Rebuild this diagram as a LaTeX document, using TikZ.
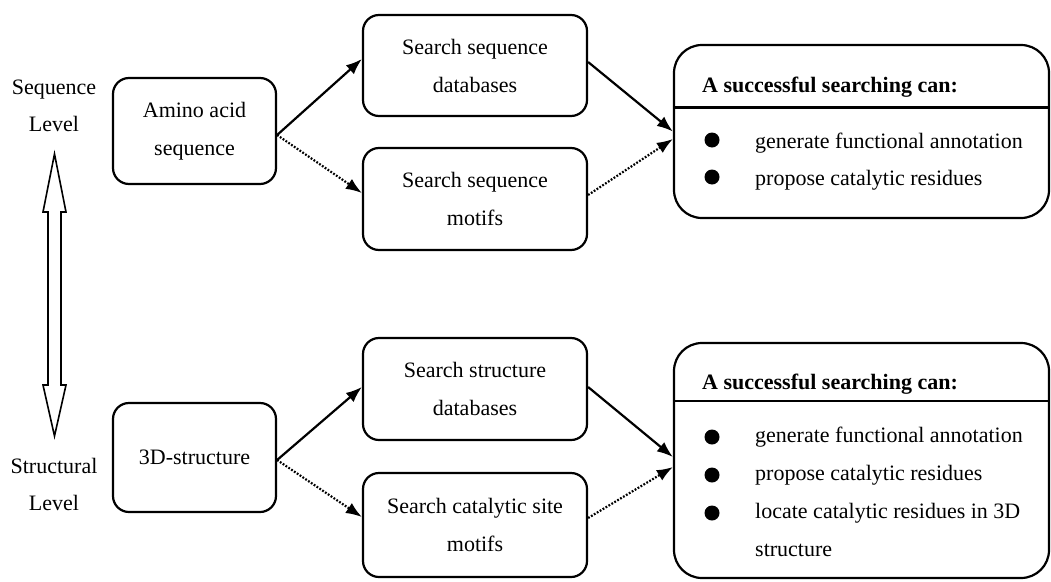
\documentclass[tikz,border=0pt]{standalone}
\usepackage{fontspec}
\setmainfont{Liberation Serif}
\usetikzlibrary{arrows.meta}

\tikzset{
  stepbox/.style={draw, line width=2.2pt, rounded corners=16pt, align=center,
    font=\fontsize{22}{38}\selectfont, inner sep=0pt},
  resultbox/.style={draw, line width=2.2pt, rounded corners=28pt, inner sep=0pt},
  lvltext/.style={align=center, font=\fontsize{22}{37}\selectfont, inner sep=0pt},
  itemtext/.style={anchor=base west, font=\fontsize{22}{25}\selectfont, inner sep=0pt},
  headtext/.style={anchor=base west, font=\fontsize{22}{25}\selectfont\bfseries, inner sep=0pt},
  bul/.style={circle, fill, minimum size=15pt, inner sep=0pt},
  solidarrow/.style={line width=2.2pt, -{Latex[length=16pt,width=12pt]}},
  dotarrow/.style={line width=2.2pt, dash pattern=on 1.8pt off 1.6pt, -{Latex[length=16pt,width=12pt]}},
}

\begin{document}
\begin{tikzpicture}[x=1pt,y=-1pt]
\useasboundingbox (0,0) rectangle (1051,581);

% level labels and the double-headed arrow between them
\node[lvltext] (seqlvl) at (54,106) {Sequence\\Level};
\node[lvltext] (strlvl) at (54,484) {Structural\\Level};
\draw[line width=1.6pt, line join=miter]
  (54.5,154) -- (66,212) -- (61,212) -- (61,385) -- (66,385) -- (54.5,436)
  -- (43,385) -- (48,385) -- (48,212) -- (43,212) -- cycle;

% sequence level
\node[stepbox, minimum width=163pt, minimum height=106pt] (amino) at (194.5,131) {Amino acid\\sequence};
\node[stepbox, minimum width=224pt, minimum height=101pt] (sdb) at (475,65.5) {Search sequence\\databases};
\node[stepbox, minimum width=224pt, minimum height=102pt] (smo) at (475,199) {Search sequence\\motifs};
\node[resultbox, minimum width=375pt, minimum height=173pt] (res1) at (861.5,131.5) {};
\coordinate (h1) at (0,107.5);
\draw[line width=2.2pt] (res1.west |- h1) -- (res1.east |- h1);
\node[headtext] (hd1) at (702,92) {A successful searching can:};
\node[bul] (b11) at (712,140) {};
\node[bul] (b12) at (712,177) {};
\node[itemtext] (t11) at (755,148) {generate functional annotation};
\node[itemtext] (t12) at (755,185) {propose catalytic residues};

% structural level
\node[stepbox, minimum width=163pt, minimum height=109pt] (d3) at (194.5,457.5) {3D-structure};
\node[stepbox, minimum width=224pt, minimum height=102pt] (stdb) at (475,389) {Search structure\\databases};
\node[stepbox, minimum width=224pt, minimum height=104pt] (cat) at (475,525) {Search catalytic site\\motifs};
\node[resultbox, minimum width=375pt, minimum height=235pt] (res2) at (861.5,460.5) {};
\coordinate (h2) at (0,401);
\draw[line width=2.2pt] (res2.west |- h2) -- (res2.east |- h2);
\node[headtext] (hd2) at (702,389) {A successful searching can:};
\node[bul] (b21) at (712,437) {};
\node[bul] (b22) at (712,475) {};
\node[bul] (b23) at (712,513) {};
\node[itemtext] (t21) at (755,442) {generate functional annotation};
\node[itemtext] (t22) at (755,480) {propose catalytic residues};
\node[itemtext] (t23) at (755,518) {locate catalytic residues in 3D};
\node[itemtext] (t24) at (755,556) {structure};

% connectors, sequence level
\draw[solidarrow] ([yshift=-4pt]amino.east) -- ([yshift=6.5pt]sdb.west);
\draw[dotarrow]   ([yshift=-4pt]amino.east) -- ([yshift=6pt]smo.west);
\draw[solidarrow] ([yshift=3.5pt]sdb.east) -- ([yshift=0pt]res1.west);
\draw[dotarrow]   ([yshift=4pt]smo.east) -- ([yshift=-7.5pt]res1.west);

% connectors, structural level
\draw[solidarrow] ([yshift=-2.5pt]d3.east) -- ([yshift=2pt]stdb.west);
\draw[dotarrow]   ([yshift=-2.5pt]d3.east) -- ([yshift=8pt]cat.west);
\draw[solidarrow] ([yshift=2pt]stdb.east) -- ([yshift=3.5pt]res2.west);
\draw[dotarrow]   ([yshift=7pt]cat.east) -- ([yshift=-6.5pt]res2.west);
\end{tikzpicture}
\end{document}
